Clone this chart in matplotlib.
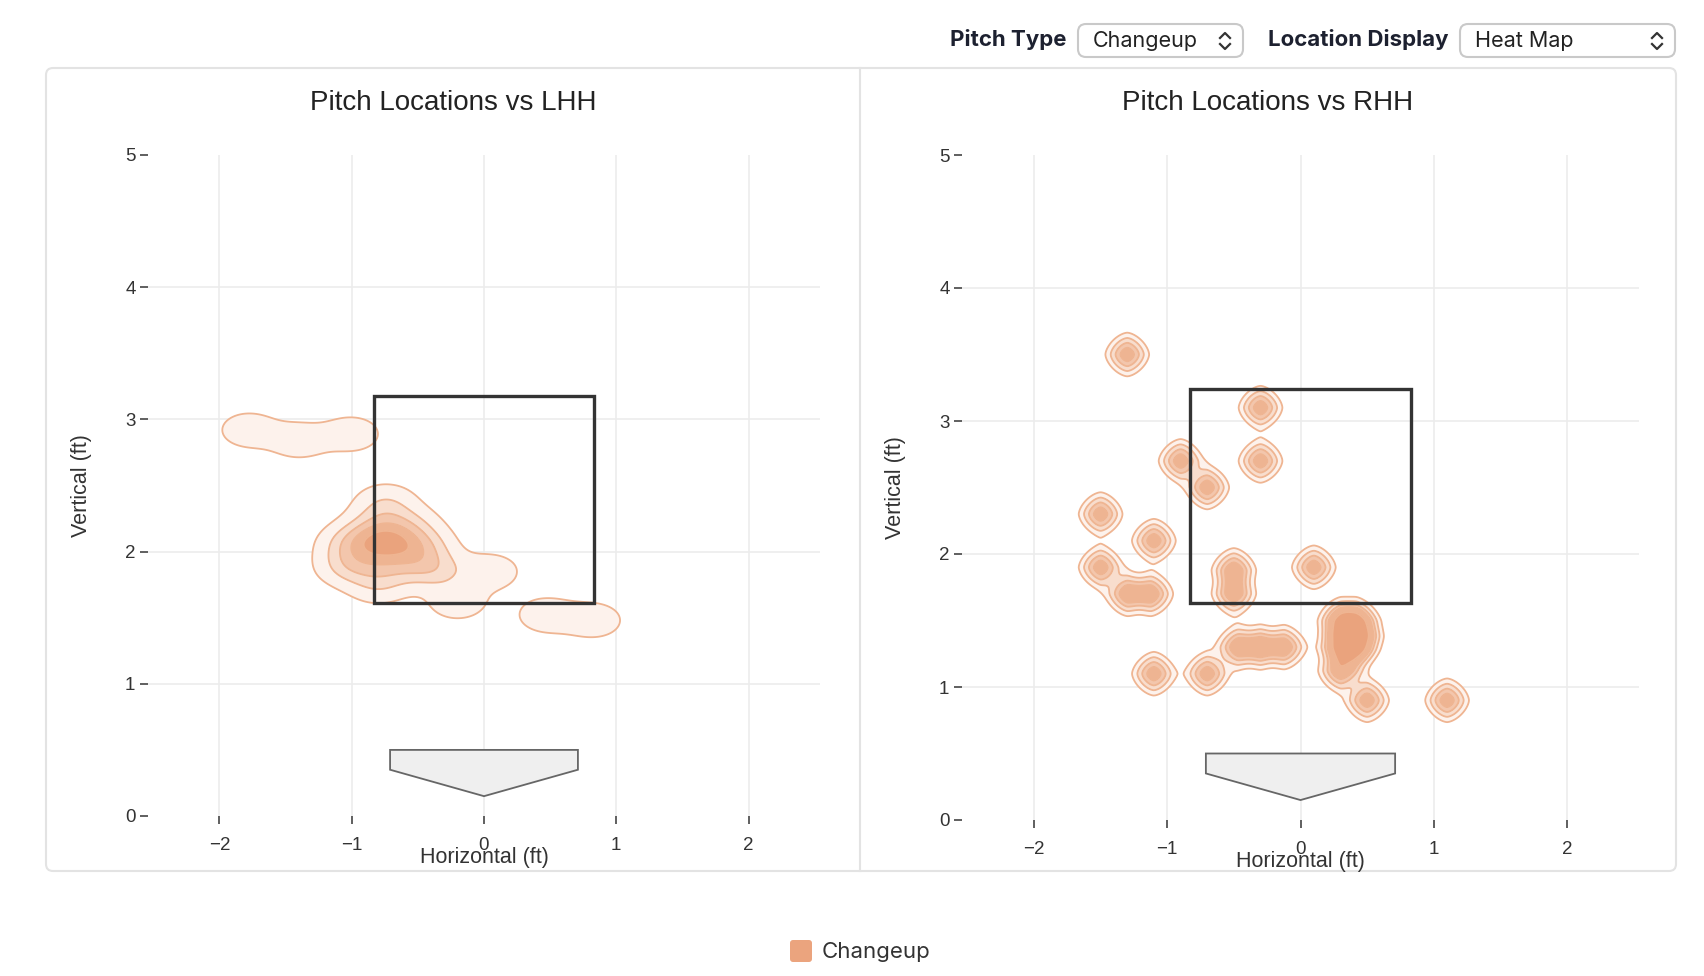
import matplotlib
matplotlib.use('Agg')
import matplotlib.pyplot as plt
import numpy as np
from matplotlib.patches import FancyBboxPatch, Rectangle, Polygon
from matplotlib.lines import Line2D
from matplotlib.transforms import IdentityTransform

W, H = 1704, 976

# changeup locations (ft)
lhh_x = [-0.74, -0.74, -0.76,
         -0.92, -0.56, -0.78, -0.70, -0.92, -0.56, -1.03, -0.45, -0.74, -0.80,
         -0.45, -0.35, -1.05,
         0.05, -0.20,
         -1.78, -1.40, -1.00,
         0.47, 0.83]
lhh_y = [2.06, 2.06, 2.10,
         2.10, 2.02, 2.24, 1.88, 1.92, 2.20, 2.05, 2.05, 2.38, 1.74,
         1.90, 1.85, 1.88,
         1.85, 1.62,
         2.92, 2.84, 2.89,
         1.52, 1.48]

rhh_x = [-1.30, -0.30, -0.30, -0.90, -0.70, -1.50, -1.10, -1.50,
         -1.30, -1.12, -0.50, -0.50, 0.10, -1.10, -0.70,
         -0.47, -0.30, -0.12,
         0.30, 0.42, 0.35, 0.45, 0.30, 0.40, 0.30,
         0.50, 1.10]
rhh_y = [3.50, 3.10, 2.70, 2.70, 2.50, 2.30, 2.10, 1.90,
         1.70, 1.70, 1.88, 1.70, 1.90, 1.10, 1.10,
         1.30, 1.30, 1.30,
         1.50, 1.50, 1.40, 1.38, 1.30, 1.28, 1.12,
         0.90, 0.90]

zone_lhh = (-0.83, 0.83, 1.61, 3.18)
zone_rhh = (-0.83, 0.83, 1.63, 3.24)
plate_x = [-0.71, 0.71, 0.71, 0.0, -0.71]
plate_y = [0.50, 0.50, 0.35, 0.15, 0.35]
x_ticks = [-2, -1, 0, 1, 2]
y_ticks = [0, 1, 2, 3, 4, 5]

fill_colors = ['#fdf2ec', '#f8ddcd', '#f3c6ac', '#eeb492', '#eaa37d']
line_color = '#efb592'

plt.rcParams['font.family'] = ['Liberation Sans', 'DejaVu Sans']


def density(px, py, sx, sy, p, gx, gy):
    X, Y = np.meshgrid(gx, gy)
    Z = np.zeros_like(X)
    for a, b in zip(px, py):
        d = (np.abs((X - a) / sx) ** p + np.abs((Y - b) / sy) ** p) ** (2.0 / p)
        Z += np.exp(-0.5 * d)
    return X, Y, Z


def pix(x, y):
    return x, H - y


fig = plt.figure(figsize=(W / 100, H / 100), dpi=100)
fig.patch.set_facecolor('white')

# panel frame
frame = FancyBboxPatch(pix(46, 871), 1676 - 46, 871 - 68,
                       boxstyle='round,pad=0,rounding_size=7',
                       transform=IdentityTransform(), facecolor='white',
                       edgecolor='#e3e3e3', lw=1.5, zorder=0)
fig.add_artist(frame)
fig.add_artist(Line2D([860, 860], [H - 68, H - 871], transform=IdentityTransform(),
                      color='#e3e3e3', lw=1.5))

# header controls
hdr = dict(family=['Inter', 'DejaVu Sans'], fontsize=16, color='#1d2130')
fig.text(1066 / W, 1 - 40 / H, 'Pitch Type', ha='right', va='center', fontweight='bold', **hdr)
fig.text(1448 / W, 1 - 40 / H, 'Location Display', ha='right', va='center', fontweight='bold', **hdr)
for (x0, x1, label) in [(1078, 1243, 'Changeup'), (1460, 1675, 'Heat Map')]:
    box = FancyBboxPatch(pix(x0, 57), x1 - x0, 33, boxstyle='round,pad=0,rounding_size=8',
                         transform=IdentityTransform(), facecolor='white',
                         edgecolor='#c9c9c9', lw=1.5)
    fig.add_artist(box)
    fig.text((x0 + 15) / W, 1 - 41 / H, label, ha='left', va='center',
             family=['Inter', 'DejaVu Sans'], fontsize=15.5, color='#222')
    cx = x1 - 18
    fig.add_artist(Line2D([cx - 5, cx, cx + 5], [H - 38, H - 33, H - 38],
                          transform=IdentityTransform(), color='#333', lw=1.6))
    fig.add_artist(Line2D([cx - 5, cx, cx + 5], [H - 44, H - 49, H - 44],
                          transform=IdentityTransform(), color='#333', lw=1.6))

gx = np.linspace(-2.54, 2.54, 520)
gy = np.linspace(0, 5, 520)

panels = [
    dict(rect=(148, 155, 672, 661), title='Pitch Locations vs LHH', cx=453,
         xs=lhh_x, ys=lhh_y, sx=0.16, sy=0.10, p=2.0, rel=True,
         levels=[0.09, 0.27, 0.45, 0.64, 0.83], zone=zone_lhh),
    dict(rect=(962, 155, 677, 665), title='Pitch Locations vs RHH', cx=1268,
         xs=rhh_x, ys=rhh_y, sx=0.09, sy=0.09, p=1.6, rel=False,
         levels=[0.19, 0.385, 0.62, 0.85, 1.4], zone=zone_rhh),
]

for pn in panels:
    x0, y0, w, h = pn['rect']
    ax = fig.add_axes([x0 / W, 1 - (y0 + h) / H, w / W, h / H])
    ax.set_xlim(-2.54, 2.54)
    ax.set_ylim(0, 5)
    ax.patch.set_alpha(0)
    for s in ax.spines.values():
        s.set_visible(False)

    ax.vlines(x_ticks, 0, 5, color='#ececec', lw=1.2, zorder=0)
    ax.hlines(y_ticks[1:-1], -2.54, 2.54, color='#ececec', lw=1.2, zorder=0)

    X, Y, Z = density(pn['xs'], pn['ys'], pn['sx'], pn['sy'], pn['p'], gx, gy)
    lv = np.array(pn['levels'])
    if pn['rel']:
        lv = lv * Z.max()
    ax.contourf(X, Y, Z, levels=list(lv) + [Z.max() * 2], colors=fill_colors, zorder=1)
    ax.contour(X, Y, Z, levels=lv, colors=line_color, linewidths=1.3, zorder=2)

    zx0, zx1, zy0, zy1 = pn['zone']
    ax.add_patch(Rectangle((zx0, zy0), zx1 - zx0, zy1 - zy0, fill=False,
                           edgecolor='#333333', lw=2.4, zorder=4))
    ax.add_patch(Polygon(list(zip(plate_x, plate_y)), closed=True, facecolor='#efefef',
                         edgecolor='#666666', lw=1.3, zorder=3))

    ax.set_xticks(x_ticks)
    ax.set_yticks(y_ticks)
    ax.set_xticklabels(['\u22122', '\u22121', '0', '1', '2'])
    ax.tick_params(axis='both', direction='out', length=6, width=1.2, color='#444',
                   labelsize=13.5, labelcolor='#333', pad=3)
    ax.tick_params(axis='x', pad=9)

    ax.annotate('Horizontal (ft)', xy=(0.5, 0), xycoords='axes fraction',
                xytext=(0, -42), textcoords='offset pixels', ha='center', va='center',
                fontsize=15.5, color='#333')
    ax.annotate('Vertical (ft)', xy=(0, 0.5), xycoords='axes fraction',
                xytext=(-66, 0), textcoords='offset pixels', ha='center', va='center',
                rotation=90, fontsize=15.5, color='#333')
    fig.text(pn['cx'] / W, 1 - 103 / H, pn['title'], ha='center', va='center',
             fontsize=20, color='#222')

# legend
sw = FancyBboxPatch(pix(790, 962), 22, 22, boxstyle='round,pad=0,rounding_size=3',
                    transform=IdentityTransform(), facecolor='#eba47e', edgecolor='none')
fig.add_artist(sw)
fig.text(822 / W, 1 - 952 / H, 'Changeup', ha='left', va='center',
         family=['Inter', 'DejaVu Sans'], fontsize=16, color='#333')

fig.savefig('out.png', dpi=100)
